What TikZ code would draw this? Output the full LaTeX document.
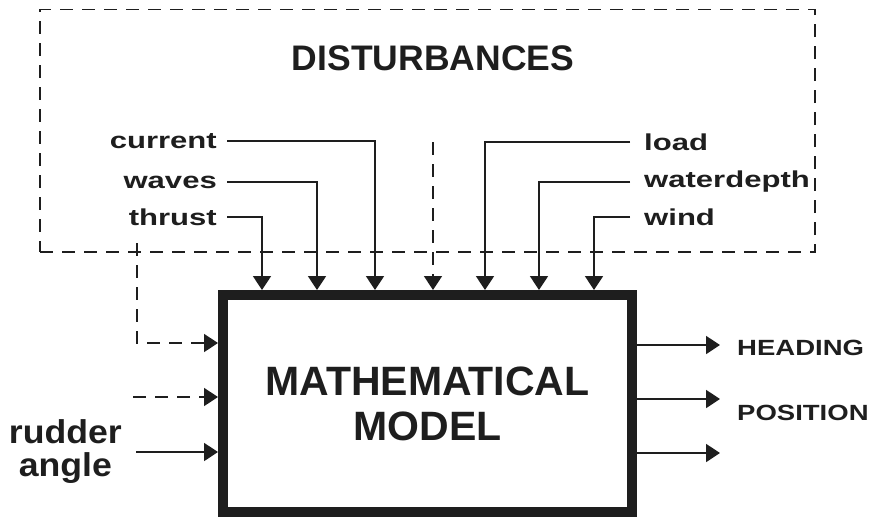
\documentclass[tikz,border=0pt]{standalone}
\usepackage{fontspec}
\setmainfont{Liberation Sans}
\newfontfamily\labfont[FakeStretch=1.35]{Liberation Sans}
\newfontfamily\outfont[FakeStretch=1.25]{Liberation Sans}
\newfontfamily\rudfont[FakeStretch=1.08]{Liberation Sans}
\usetikzlibrary{arrows.meta}
\definecolor{ink}{RGB}{30,30,30}
\begin{document}
\begin{tikzpicture}[x=1pt,y=-1pt,
  conn/.style={draw=ink,line width=1.8pt},
  tip/.style={-{Triangle[length=14pt,width=18pt]}},
  arr/.style={conn,tip},
  dashline/.style={draw=ink,line width=1.7pt,dash pattern=on 13pt off 9pt},
  dasharr/.style={dashline,tip},
  lbl/.style={text=ink,inner xsep=10pt,inner ysep=0pt,font=\labfont\bfseries\fontsize{23}{23}\selectfont},
  rlbl/.style={lbl,inner xsep=14pt},
  outlbl/.style={text=ink,inner sep=0pt,font=\outfont\bfseries\fontsize{22}{22}\selectfont},
  title/.style={text=ink,inner sep=0pt,font=\bfseries\fontsize{35.5}{36}\selectfont},
]
\useasboundingbox (0,0) rectangle (877,520);

% disturbances region
\node[dashline,draw,minimum width=775pt,minimum height=242.5pt,inner sep=0pt] (dist) at (427.5,130.75) {};
\node[title] (disttitle) at (433,58.5) {DISTURBANCES};

% model block
\node[draw=ink,line width=10pt,minimum width=409pt,minimum height=217pt,inner sep=0pt,
      align=center,text=ink,font=\bfseries\fontsize{41}{45}\selectfont] (model) at (427.5,403.5)
      {MATHEMATICAL\\MODEL};

% left disturbance labels
\node[lbl,anchor=east] (current) at (227,141) {current};
\node[lbl,anchor=east] (waves)   at (227,182) {waves};
\node[lbl,anchor=east] (thrust)  at (227,217) {thrust};
% right disturbance labels
\node[rlbl,anchor=west] (load)       at (630,142) {load};
\node[rlbl,anchor=west] (waterdepth) at (630,182) {waterdepth};
\node[rlbl,anchor=west] (wind)       at (630,217) {wind};

% drop columns
\coordinate (cThrust) at (262,0);
\coordinate (cWaves)  at (317,0);
\coordinate (cCurrent) at (375,0);
\coordinate (cLoad)   at (485,0);
\coordinate (cDepth)  at (539,0);
\coordinate (cWind)   at (594,0);

\draw[arr] (thrust.east)  -| (cThrust |- model.north);
\draw[arr] (waves.east)   -| (cWaves |- model.north);
\draw[arr] (current.east) -| (cCurrent |- model.north);
\draw[arr] (load.west)       -| (cLoad |- model.north);
\draw[arr] (waterdepth.west) -| (cDepth |- model.north);
\draw[arr] (wind.west)       -| (cWind |- model.north);

% middle dashed input
\coordinate (mid) at (433,142);
\draw[dasharr] (mid) -- (mid |- model.north);

% left dashed inputs
\coordinate (d1) at (137,243);
\coordinate (y1) at (0,343);
\draw[dasharr] (d1) |- (y1 -| model.west);
\coordinate (d2) at (133,397);
\draw[dasharr] (d2) -- (d2 -| model.west);

% rudder angle
\node[text=ink,anchor=east,align=center,inner xsep=14pt,inner ysep=0pt,
      font=\rudfont\bfseries\fontsize{33}{33}\selectfont] (rudder) at (136,452) {rudder\\angle};
\draw[arr] (rudder.east) -- (rudder.east -| model.west);

% outputs
\coordinate (o1) at (720,345);
\coordinate (o2) at (720,399);
\coordinate (o3) at (720,453);
\draw[arr] (o1 -| model.east) -- (o1);
\draw[arr] (o2 -| model.east) -- (o2);
\draw[arr] (o3 -| model.east) -- (o3);
\node[outlbl,anchor=west] (heading)  at (737,347.5) {HEADING};
\node[outlbl,anchor=west] (position) at (737,412.5) {POSITION};
\end{tikzpicture}
\end{document}
